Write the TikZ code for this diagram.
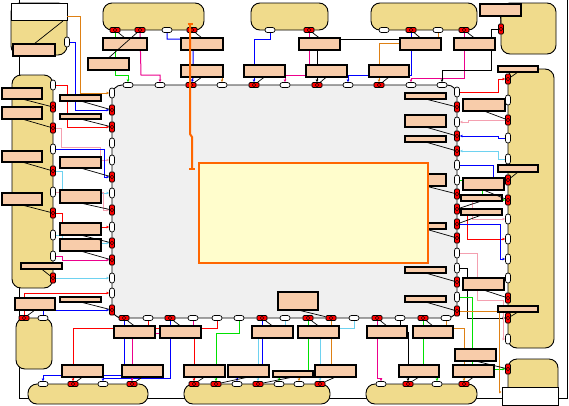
\documentclass[tikz,border=0pt]{standalone}
\usetikzlibrary{arrows.meta}
\definecolor{cont}{RGB}{240,219,140}
\definecolor{salm}{RGB}{248,204,170}
\definecolor{grayb}{RGB}{240,240,240}
\definecolor{innerc}{RGB}{255,253,204}
\definecolor{orng}{RGB}{255,102,0}
\definecolor{corange}{RGB}{222,128,20}
\definecolor{cgreen}{RGB}{0,225,0}
\definecolor{ccyan}{RGB}{110,210,240}
\definecolor{cpink}{RGB}{244,160,176}
\pgfdeclarelayer{base}
\pgfdeclarelayer{wires}
\pgfsetlayers{base,wires,main}
\tikzset{
 container/.style={draw=black, line width=0.9pt, fill=cont, rounded corners=9pt, inner sep=0pt},
 whitebox/.style={draw=black, line width=0.9pt, fill=white, inner sep=0pt},
 salbox/.style={draw=black, line width=1.1pt, fill=salm, inner sep=0pt, outer sep=0pt},
 portbase/.style={draw=black, line width=0.7pt, inner sep=0pt},
 redmark/.style={path picture={
   \fill[black] ([xshift=-2pt,yshift=-0.6pt]path picture bounding box.center) rectangle ++(1.2pt,1.2pt);
   \fill[black] ([xshift=0.8pt,yshift=-0.6pt]path picture bounding box.center) rectangle ++(1.2pt,1.2pt);
   \fill[black] ([xshift=-0.6pt,yshift=-2pt]path picture bounding box.center) rectangle ++(1.2pt,1.2pt);
   \fill[black] ([xshift=-0.6pt,yshift=0.8pt]path picture bounding box.center) rectangle ++(1.2pt,1.2pt);}},
 hwp/.style={portbase, fill=white, rounded corners=2.4pt, minimum width=10pt, minimum height=5pt},
 hrp/.style={portbase, fill=red, rounded corners=1.2pt, minimum width=10pt, minimum height=5pt, redmark},
 vwp/.style={portbase, fill=white, rounded corners=2.4pt, minimum width=5pt, minimum height=10pt},
 vrp/.style={portbase, fill=red, rounded corners=1.2pt, minimum width=5pt, minimum height=10pt, redmark},
 wire/.style={line width=1pt, -{Latex[length=2.5pt,width=3pt]}},
 plainwire/.style={line width=1pt},
 lbl/.style={draw=black, line width=0.7pt},
 frameline/.style={draw=black, line width=0.9pt},
}
\newcommand{\cont}[5]{\node[container, minimum width={(#4-#2)*1pt}, minimum height={(#5-#3)*1pt}] (#1) at ({(#2+#4)/2},{(#3+#5)/2}) {};}
\newcommand{\sal}[5]{\node[salbox, minimum width={(#4-#2)*1pt}, minimum height={(#5-#3)*1pt}] (#1) at ({(#2+#4)/2},{(#3+#5)/2}) {};}
\newcommand{\hwport}[3]{\node[hwp] (#1) at (#2,#3) {};}
\newcommand{\hrport}[3]{\node[hrp] (#1) at (#2,#3) {};}
\newcommand{\vwport}[3]{\node[vwp] (#1) at (#2,#3) {};}
\newcommand{\vrport}[3]{\node[vrp] (#1) at (#2,#3) {};}
\begin{document}
\begin{tikzpicture}[x=1pt,y=-1pt]
\useasboundingbox (0,0) rectangle (569,405);
\begin{pgfonlayer}{base}
\fill[white] (0,0) rectangle (569,405);
\draw[frameline] (19,-2) -- (19,398) -- (567,398) -- (567,-2);
\cont{tlc}{11}{3}{67}{55}
\node[whitebox, minimum width=56pt, minimum height=17pt] (tlh) at (39,11.5) {};
\cont{ctopa}{103}{3}{204}{30}
\cont{ctopb}{251}{3}{328}{30}
\cont{ctopc}{371}{3}{477}{30}
\cont{ctr}{501}{3}{556}{54}
\cont{cleft}{12}{75}{53}{288}
\cont{clsm}{16}{318}{52}{369}
\cont{cright}{508}{69}{554}{348}
\cont{cbota}{28}{384}{148}{404}
\cont{cbotb}{184}{384}{330}{404}
\cont{cbotc}{366}{384}{477}{404}
\cont{cbrs}{508}{359}{558}{400}
\node[whitebox, minimum width=56pt, minimum height=18pt] (wbox) at (530,396) {};
\node[draw=black, line width=0.9pt, fill=grayb, rounded corners=10pt, inner sep=0pt, minimum width=345pt, minimum height=233pt] (gray) at (284.5,201.5) {};
\end{pgfonlayer}
% ---- ports ----
\hrport{c1a}{115}{30} \hrport{c1b}{140}{30} \hwport{c1c}{167}{30} \hrport{c1d}{192}{30}
\hwport{c2a}{270}{30} \hrport{c2b}{309}{30}
\hwport{c3a}{384}{30} \hrport{c3b}{411}{30} \hwport{c3c}{438}{30} \hrport{c3d}{464}{30}
\vrport{trp}{501}{29}
\vwport{tlp}{67}{42}
\vwport{lc1}{53}{85} \vrport{lc2}{53}{107} \vrport{lc3}{53}{128} \vwport{lc4}{53}{149}
\vrport{lc5}{53}{171} \vwport{lc6}{53}{192} \vrport{lc7}{53}{213} \vwport{lc8}{53}{235}
\vwport{lc9}{53}{256} \vrport{lc10}{53}{278}
\hrport{lsc1}{24}{318} \hwport{lsc2}{43}{318}
\vrport{rc1}{508}{79} \vwport{rc2}{508}{100} \vrport{rc3}{508}{120} \vwport{rc4}{508}{138}
\vwport{rc5}{508}{159} \vrport{rc6}{508}{180} \vrport{rc7}{508}{200} \vwport{rc8}{508}{219}
\vwport{rc9}{508}{239} \vwport{rc10}{508}{259} \vwport{rc11}{508}{278} \vrport{rc12}{508}{298}
\vrport{rc13}{508}{318} \vwport{rc14}{508}{339}
\vrport{brc}{508}{369}
\hwport{bc1a}{43}{384} \hrport{bc1b}{73}{384} \hwport{bc1c}{103}{384} \hrport{bc1d}{132}{384}
\hrport{bc2a}{194}{384} \hrport{bc2b}{216}{384} \hwport{bc2c}{237}{384} \hrport{bc2d}{258}{384}
\hwport{bc2e}{279}{384} \hwport{bc2f}{299}{384} \hrport{bc2g}{320}{384}
\hwport{bc3a}{381}{384} \hrport{bc3b}{408}{384} \hwport{bc3c}{437}{384} \hrport{bc3d}{464}{384}
% gray top
\hwport{gT1}{128}{85} \hwport{gT2}{160}{85} \hrport{gT3}{191}{85} \hwport{gT4}{222}{85}
\hrport{gT5}{254}{85} \hwport{gT6}{285}{85} \hrport{gT7}{317}{85} \hwport{gT8}{348}{85}
\hrport{gT9}{379}{85} \hwport{gT10}{411}{85} \hwport{gT11}{442}{85}
% gray left
\vwport{gL1}{112}{93} \vrport{gL2}{112}{110} \vrport{gL3}{112}{127} \vwport{gL4}{112}{143}
\vwport{gL5}{112}{160} \vrport{gL6}{112}{177} \vwport{gL7}{112}{193} \vrport{gL8}{112}{210}
\vwport{gL9}{112}{227} \vrport{gL10}{112}{243} \vrport{gL11}{112}{260} \vwport{gL12}{112}{278}
\vwport{gL13}{112}{293} \vrport{gL14}{112}{310}
% gray bottom
\hrport{gB1}{124}{318} \hwport{gB2}{148}{318} \hrport{gB3}{170}{318} \hwport{gB4}{193}{318}
\hwport{gB5}{217}{318} \hwport{gB6}{239}{318} \hrport{gB7}{262}{318} \hwport{gB8}{285}{318}
\hrport{gB9}{308}{318} \hrport{gB10}{331}{318} \hwport{gB11}{354}{318} \hrport{gB12}{377}{318}
\hwport{gB13}{400}{318} \hrport{gB14}{423}{318} \hwport{gB15}{446}{318}
% gray right
\vwport{gR1}{457}{92} \vrport{gR2}{457}{107} \vwport{gR3}{457}{122} \vrport{gR4}{457}{136}
\vrport{gR5}{457}{151} \vwport{gR6}{457}{165} \vwport{gR7}{457}{180} \vrport{gR8}{457}{194}
\vrport{gR9}{457}{209} \vrport{gR10}{457}{224} \vrport{gR11}{457}{238} \vwport{gR12}{457}{253}
\vwport{gR13}{457}{268} \vrport{gR14}{457}{282} \vwport{gR15}{457}{297} \vrport{gR16}{457}{311}
\coordinate (tlo) at (67,16);
\coordinate (tlk) at (63,21);
% ---- wires ----
\begin{pgfonlayer}{wires}
\draw[wire,corange] (tlo) -- (80,16) -- (80,93) -- (gL1);
\draw[wire,blue] (tlp) -- (75,42) -- (75,110) -- (gL2);
\draw[wire,red] (lc1) -- (67,85) -- (67,127) -- (gL3);
\draw[wire,cpink] (lc3) -- (61,128) -- (61,147) -- (100,147) -- (100,160) -- (gL5);
\draw[wire,blue] (lc4) -- (104,149) -- (104,177) -- (gL6);
\draw[wire,ccyan] (lc5) -- (62,171) -- (62,193) -- (gL7);
\draw[wire,cpink] (lc6) -- (103,192) -- (103,210) -- (gL8);
\draw[wire,red] (lc7) -- (62,213) -- (62,227) -- (gL9);
\draw[wire,ccyan] (lc8) -- (62,235) -- (62,243) -- (gL10);
\draw[wire,magenta] (lc9) -- (62,256) -- (62,260) -- (gL11);
\draw[wire,ccyan] (lc10) -- (gL12);
\draw[wire,red] (lsc1) -- (24,293) -- (gL13);
\draw[wire,blue] (lsc2) -- (43,310) -- (gL14);
% top
\draw[wire,cgreen] (c1a) -- (115,75) -- (128,75) -- (gT1);
\draw[wire,magenta] (c1b) -- (141,75) -- (160,75) -- (gT2);
\draw[wire,blue] (c1c) -- (167,39) -- (193,39) -- (193,78) -- (gT3);
\draw[wire,corange] (222,72) -- (gT4);
\draw[wire,blue] (c2a) -- (270,39) -- (254,39) -- (gT5);
\draw[wire,magenta] (c2b) -- (309,75) -- (285,75) -- (gT6);
\draw[wire,black] (317,44) -- (gT7);
\draw[plainwire,black] (320,39) -- (420,39);
\draw[wire,blue] (c3b) -- (411,75) -- (348,75) -- (gT8);
\draw[wire,corange] (c3c) -- (438,43) -- (379,43) -- (gT9);
\draw[wire,magenta] (c3d) -- (464,78) -- (411,78) -- (gT10);
\draw[wire,black] (trp) -- (491,29) -- (491,70) -- (442,70) -- (gT11);
% right
\draw[wire,red] (gR1) -- (498,92) -- (498,79) -- (rc1);
\draw[wire,cpink] (rc3) -- (468,120) -- (468,122) -- (gR3);
\draw[wire,blue] (rc4) -- (498,138) -- (498,136) -- (gR4);
\draw[wire,ccyan] (rc5) -- (498,159) -- (498,151) -- (gR5);
\draw[wire,blue] (gR6) -- (493,165) -- (493,180) -- (rc6);
\draw[wire,cgreen] (gR7) -- (482,180) -- (482,200) -- (rc7);
\draw[wire,cpink] (gR8) -- (472,194) -- (472,219) -- (rc8);
\draw[wire,red] (gR9) -- (467,209) -- (467,239) -- (rc9);
\draw[wire,blue] (gR10) -- (500,224) -- (500,259) -- (rc10);
\draw[wire,black] (gR13) -- (467,268) -- (467,318) -- (rc13);
\draw[wire,cpink] (gR12) -- (477,253) -- (477,300) -- (503,300) -- (503,339) -- (rc14);
\draw[wire,cgreen] (gR15) -- (472,297) -- (472,369) -- (brc);
\draw[wire,corange] (gR16) -- (499,311) -- (499,392) -- (wbox.west |- {(0,392)});
% bottom
\draw[wire,blue] (gB1) -- (124,375) -- (43,375) -- (bc1a);
\draw[plainwire,red] (gB2) -- (148,326);
\draw[wire,blue] (gB3) -- (170,378) -- (103,378) -- (bc1c);
\draw[wire,magenta] (gB4) -- (193,333) -- (132,333) -- (bc1d);
\draw[wire,red] (gB5) -- (217,328) -- (73,328) -- (bc1b);
\draw[wire,red] (194,338) -- (bc2a);
\draw[wire,cgreen] (gB6) -- (239,333) -- (216,333) -- (bc2b);
\draw[wire,blue] (gB7) -- (262,372) -- (237,372) -- (bc2c);
\draw[wire,ccyan] (gB8) -- (285,330) -- (258,330) -- (bc2d);
\draw[wire,cgreen] (gB9) -- (308,374) -- (279,374) -- (bc2e);
\draw[wire,corange] (gB10) -- (331,374) -- (299,374) -- (bc2f);
\draw[wire,ccyan] (gB11) -- (354,328) -- (320,328) -- (bc2g);
\draw[wire,magenta] (gB12) -- (377,378) -- (381,378) -- (bc3a);
\draw[wire,black] (gB13) -- (400,332) -- (408,332) -- (bc3b);
\draw[wire,cgreen] (gB14) -- (423,371) -- (437,371) -- (bc3c);
\draw[wire,corange] (gB15) -- (446,328) -- (464,328) -- (bc3d);
\end{pgfonlayer}
% ---- salmon boxes ----
\sal{S1}{103}{38}{147}{50} \sal{S2}{88}{58}{129}{70} \sal{S3}{181}{38}{223}{50}
\sal{S4}{181}{65}{223}{77} \sal{S5}{244}{65}{285}{77} \sal{S6}{299}{38}{340}{50}
\sal{S7}{306}{65}{347}{77} \sal{S8}{369}{65}{409}{77} \sal{S9}{400}{38}{441}{50}
\sal{S10}{454}{38}{495}{50} \sal{S11}{480}{4}{521}{16} \sal{S12}{13}{44}{55}{56}
\sal{S13}{498}{66}{538}{72}
\sal{L1}{2}{88}{42}{99} \sal{L2}{2}{107}{42}{119} \sal{L3}{60}{95}{101}{101}
\sal{L4}{60}{114}{101}{119} \sal{L5}{2}{151}{42}{162} \sal{L6}{60}{157}{101}{168}
\sal{L7}{2}{193}{42}{205} \sal{L8}{60}{190}{101}{203} \sal{L9}{60}{223}{101}{235}
\sal{L10}{60}{239}{101}{251} \sal{L11}{21}{263}{62}{269} \sal{L12}{60}{297}{101}{302}
\sal{L13}{15}{298}{55}{310}
\sal{R1}{405}{93}{446}{99} \sal{R2}{463}{99}{505}{111} \sal{R3}{405}{115}{446}{127}
\sal{R4}{405}{136}{446}{142} \sal{R5}{498}{165}{538}{172} \sal{R6}{405}{174}{446}{186}
\sal{R7}{463}{178}{504}{190} \sal{R8}{461}{195}{502}{201} \sal{R9}{461}{209}{502}{215}
\sal{R10}{405}{223}{446}{229} \sal{R11}{405}{267}{446}{273} \sal{R12}{405}{296}{446}{302}
\sal{R13}{463}{278}{504}{290} \sal{R14}{498}{306}{538}{312} \sal{R15}{455}{349}{496}{361}
\sal{B1}{114}{326}{155}{338} \sal{B2}{160}{326}{201}{338} \sal{B3}{252}{326}{293}{338}
\sal{B4}{298}{326}{339}{338} \sal{B5}{367}{326}{407}{338} \sal{B6}{413}{326}{453}{338}
\sal{B7}{278}{292}{318}{310} \sal{B8}{62}{365}{103}{377} \sal{B9}{122}{365}{163}{377}
\sal{B10}{184}{365}{225}{377} \sal{B11}{228}{365}{269}{377} \sal{B12}{273}{371}{313}{377}
\sal{B13}{315}{365}{356}{377} \sal{B14}{399}{365}{439}{377} \sal{B15}{453}{365}{494}{377}
% ---- label lines ----
\draw[lbl] (S12.north) -- (tlk);
\draw[lbl] (S1.north) -- (c1a);
\draw[lbl] (S2.north) -- (c1b);
\draw[lbl] (S3.north) -- (c1d);
\draw[lbl] (S4.south) -- (gT3);
\draw[lbl] (S5.south) -- (gT5);
\draw[lbl] (S6.north) -- (c2b);
\draw[lbl] (S7.south) -- (gT7);
\draw[lbl] (S8.south) -- (gT9);
\draw[lbl] (S9.north) -- (c3b);
\draw[lbl] (S10.north) -- (c3d);
\draw[lbl] (S11.south) -- (trp);
\draw[lbl] (S13.south) -- (rc1);
\draw[lbl] (L1.south) -- (lc2);
\draw[lbl] (L2.south) -- (lc3);
\draw[lbl] (L3.south) -- (gL2);
\draw[lbl] (L4.south) -- (gL3);
\draw[lbl] (L5.south) -- (lc5);
\draw[lbl] (L6.south) -- (gL6);
\draw[lbl] (L7.south) -- (lc7);
\draw[lbl] (L8.south) -- (gL8);
\draw[lbl] (L9.south) -- (gL10);
\draw[lbl] (L10.south) -- (gL11);
\draw[lbl] (L11.south) -- (lc10);
\draw[lbl] (L12.south) -- (gL14);
\draw[lbl] (L13.south) -- (lsc1);
\draw[lbl] (R1.south) -- (gR2);
\draw[lbl] (R2.south) -- (rc3);
\draw[lbl] (R3.south) -- (gR4);
\draw[lbl] (R4.south) -- (gR5);
\draw[lbl] (R5.south) -- (rc6);
\draw[lbl] (R6.south) -- (gR8);
\draw[lbl] (R7.south) -- (rc7);
\draw[lbl] (R8.south) -- (gR9);
\draw[lbl] (R9.south) -- (gR10);
\draw[lbl] (R10.south) -- (gR11);
\draw[lbl] (R11.south) -- (gR14);
\draw[lbl] (R12.south) -- (gR16);
\draw[lbl] (R13.south) -- (rc12);
\draw[lbl] (R14.south) -- (rc13);
\draw[lbl] (R15.south) -- (brc);
\draw[lbl] (B1.north) -- (gB1);
\draw[lbl] (B2.north) -- (gB3);
\draw[lbl] (B3.north) -- (gB7);
\draw[lbl] (B4.north) -- (gB9);
\draw[lbl] (B5.north) -- (gB12);
\draw[lbl] (B6.north) -- (gB14);
\draw[lbl] (B7.south) -- (gB10);
\draw[lbl] (B8.south) -- (bc1b);
\draw[lbl] (B9.south) -- (bc1d);
\draw[lbl] (B10.south) -- (bc2a);
\draw[lbl] (B11.south) -- (bc2b);
\draw[lbl] (B12.south) -- (bc2d);
\draw[lbl] (B13.south) -- (bc2g);
\draw[lbl] (B14.south) -- (bc3b);
\draw[lbl] (B15.south) -- (bc3d);
% ---- inner box and orange line ----
\node[draw=orng, line width=2pt, fill=innerc, inner sep=0pt, minimum width=229pt, minimum height=100pt] (innerbox) at (313.5,213) {};
\coordinate (ot) at (190,24);
\coordinate (ob) at (192,169);
\draw[orng, line width=2pt] (ot) -- (190,134) -- (192,137) -- (ob);
\draw[orng, line width=1.5pt] (187.5,24) -- (192.5,24);
\draw[orng, line width=1.5pt] (189,169) -- (195,169);
\end{tikzpicture}
\end{document}
